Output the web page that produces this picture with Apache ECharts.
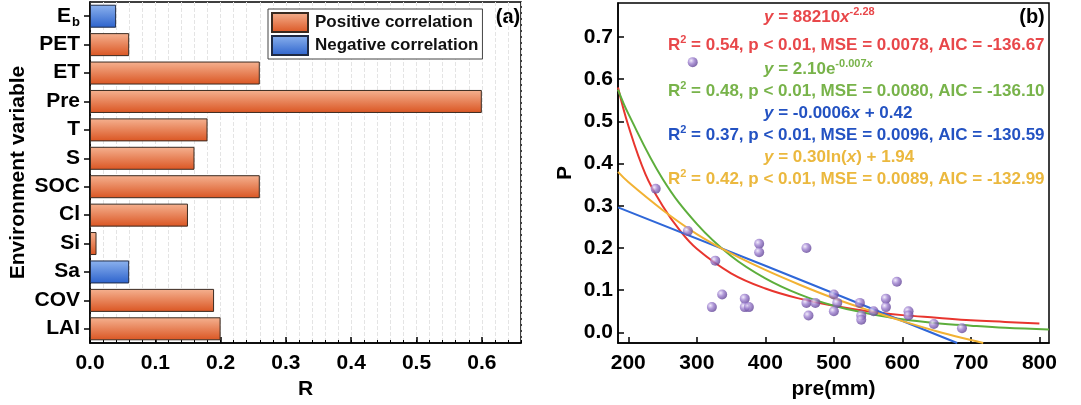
<!DOCTYPE html>
<html><head><meta charset="utf-8">
<script src="https://cdn.jsdelivr.net/npm/echarts@6/dist/echarts.min.js"></script>
<style>html,body{margin:0;padding:0;background:#fff}#c{width:1081px;height:405px}</style>
</head><body><div id="c"></div>
<script>
// ---- Panel (a) data ----
const categories = ['E_b','PET','ET','Pre','T','S','SOC','Cl','Si','Sa','COV','LAI'];
const positiveR  = [null,0.06,0.26,0.60,0.18,0.16,0.26,0.15,0.01,null,0.19,0.20];
const negativeR  = [0.04,null,null,null,null,null,null,null,null,0.06,null,null];

// ---- Panel (b) data ----
const pre = [294,240,287,327,337,322,370,370,376,391,391,460,460,473,463,500,505,500,538,540,540,558,576,576,592,609,609,646,687];
const P   = [0.64,0.34,0.24,0.17,0.09,0.06,0.08,0.06,0.06,0.21,0.19,0.20,0.07,0.07,0.04,0.09,0.07,0.05,0.07,0.04,0.03,0.05,0.08,0.06,0.12,0.05,0.04,0.02,0.01];

// fitted curves
const powerX = [185,200,225,250,275,300,350,400,450,500,550,600,650,700,750,800];
const powerY = [0.58,0.49,0.375,0.30,0.242,0.198,0.14,0.104,0.08,0.063,0.05,0.041,0.035,0.029,0.025,0.021];
const expX = [185,200,250,300,350,400,450,500,550,600,650,700,750,814];
const expY = [0.575,0.518,0.364,0.257,0.181,0.128,0.09,0.063,0.045,0.031,0.022,0.016,0.011,0.007];
const linX = [185,400,680];
const linY = [0.296,0.158,-0.025];
const logX = [185,200,250,300,350,400,450,500,550,600,650,700,718];
const logY = [0.38,0.356,0.29,0.233,0.187,0.148,0.113,0.081,0.053,0.027,0.003,-0.018,-0.025];

const pTicks = [0,0.1,0.2,0.3,0.4,0.5,0.6,0.7];
const preTicks = [200,300,400,500,600,700,800];

const FF = '"Liberation Sans", Arial, sans-serif';
const zip = (a,b) => a.map((v,i)=>[v,b[i]]);
const chart = echarts.init(document.getElementById('c'));

const orangeGrad = new echarts.graphic.LinearGradient(0,0,0,1,[{offset:0,color:'#F5B291'},{offset:1,color:'#DA5522'}]);
const blueGrad = new echarts.graphic.LinearGradient(0,0,0,1,[{offset:0,color:'#8DB3EE'},{offset:1,color:'#2C62CC'}]);
const dotGrad = new echarts.graphic.RadialGradient(0.35,0.35,0.7,[{offset:0,color:'#EEE6FA'},{offset:0.45,color:'#9D80CF'},{offset:1,color:'#5D3F92'}]);

const red='#E8352E', green='#5DAE3C', blue='#2F67D8', yellow='#F2B233';
const tRed='#E8474A', tGreen='#78B34A', tBlue='#2352C2', tYellow='#EBB83E';

function richSet(){
  return {
    n:{fontSize:17,fontWeight:'bold',fontFamily:FF,lineHeight:20,verticalAlign:'bottom'},
    i:{fontSize:17,fontWeight:'bold',fontStyle:'italic',fontFamily:FF,lineHeight:20,verticalAlign:'bottom'},
    s:{fontSize:11,fontWeight:'bold',fontFamily:FF,lineHeight:11,verticalAlign:'top'},
    si:{fontSize:11,fontWeight:'bold',fontStyle:'italic',fontFamily:FF,lineHeight:11,verticalAlign:'top'}
  };
}
function txt(x,y,text,color){
  return {type:'text',x:x,y:y,z:10,style:{text:text,fill:color,textVerticalAlign:'middle',rich:richSet(),font:'bold 17px '+FF}};
}

const axisLineStyle = {color:'#000',width:1.5};
const tickLabel = {color:'#000',fontSize:21,fontWeight:'bold',fontFamily:FF};

chart.setOption({
  animation:false,
  backgroundColor:'#fff',
  grid:[
    {left:90,top:2,width:431,height:341,show:true,borderColor:'#000',borderWidth:1.5,backgroundColor:'transparent'},
    {left:618,top:3,width:431,height:340,show:true,borderColor:'#000',borderWidth:1.5,backgroundColor:'transparent'}
  ],
  legend:{
    data:['Positive correlation','Negative correlation'],
    orient:'vertical',left:268,top:9,icon:'rect',
    itemWidth:36,itemHeight:19,itemGap:2,
    backgroundColor:'#fff',borderColor:'#444',borderWidth:1,padding:[3,4,3,3],
    textStyle:{fontSize:17,fontWeight:'bold',fontFamily:FF,color:'#111',padding:[0,0,0,2]}
  },
  xAxis:[
    {gridIndex:0,type:'value',min:0,max:0.66,interval:0.1,position:'bottom',
     name:'R',nameLocation:'middle',nameGap:33,
     nameTextStyle:{fontSize:21,fontWeight:'bold',fontFamily:FF,color:'#000'},
     axisLine:{show:true,onZero:false,lineStyle:axisLineStyle},
     axisTick:{show:true,inside:true,length:6,lineStyle:{color:'#000',width:1.5}},
     axisLabel:Object.assign({margin:10,showMaxLabel:false,formatter:v=>v.toFixed(1)},tickLabel),
     splitLine:{show:true,lineStyle:{color:'#b8b8b8',type:'dashed',width:1}}},
    {gridIndex:0,type:'value',min:0,max:0.66,interval:0.02,position:'bottom',
     axisLine:{show:false,onZero:false},axisLabel:{show:false},
     axisTick:{show:true,inside:true,length:3,lineStyle:{color:'#000',width:1}},
     splitLine:{show:true,lineStyle:{color:'#e4e4e4',type:'dashed',width:1}}},
    {gridIndex:1,type:'value',min:185,max:814,position:'bottom',
     name:'pre(mm)',nameLocation:'middle',nameGap:33,
     nameTextStyle:{fontSize:21,fontWeight:'bold',fontFamily:FF,color:'#000'},
     axisLine:{show:true,onZero:false,lineStyle:axisLineStyle},
     axisTick:{show:true,inside:true,length:6,customValues:preTicks,lineStyle:{color:'#000',width:1.5}},
     axisLabel:Object.assign({margin:10,customValues:preTicks},tickLabel),
     splitLine:{show:false}}
  ],
  yAxis:[
    {gridIndex:0,type:'category',data:categories,inverse:true,
     name:'Environment variable',nameLocation:'middle',nameGap:61,
     nameTextStyle:{fontSize:21,fontWeight:'bold',fontFamily:FF,color:'#000'},
     axisLine:{show:true,onZero:false,lineStyle:axisLineStyle},
     axisTick:{show:true,alignWithLabel:true,length:6,lineStyle:{color:'#000',width:1.5}},
     axisLabel:{margin:10,formatter:v=> v==='E_b' ? '{m|E}{b|b}' : '{m|'+v+'}',
       rich:{m:{fontSize:21,fontWeight:'bold',fontFamily:FF,color:'#000',lineHeight:22,verticalAlign:'top'},
             b:{fontSize:13,fontWeight:'bold',fontFamily:FF,color:'#000',lineHeight:13,padding:[11,0,0,1],verticalAlign:'top'}}},
     splitLine:{show:false}},
    {gridIndex:1,type:'value',min:-0.025,max:0.78,position:'left',
     name:'P',nameLocation:'middle',nameGap:42,
     nameTextStyle:{fontSize:21,fontWeight:'bold',fontFamily:FF,color:'#000'},
     axisLine:{show:true,onZero:false,lineStyle:axisLineStyle},
     axisTick:{show:true,inside:true,length:6,customValues:pTicks,lineStyle:{color:'#000',width:1.5}},
     axisLabel:Object.assign({margin:5,customValues:pTicks,formatter:v=>Number(v).toFixed(1)},tickLabel),
     splitLine:{show:false}}
  ],
  graphic:[
    {type:'text',x:508,y:17,style:{text:'(a)',font:'bold 20px '+FF,fill:'#000',textAlign:'center',textVerticalAlign:'middle'}},
    {type:'text',x:1032,y:17,style:{text:'(b)',font:'bold 20px '+FF,fill:'#000',textAlign:'center',textVerticalAlign:'middle'}},
    txt(764,16,'{i|y}{n| = 88210}{i|x}{s|-2.28}',tRed),
    txt(668,44,'{n|R}{s|2}{n| = 0.54, p < 0.01, MSE = 0.0078, AIC = -136.67}',tRed),
    txt(764,68,'{i|y}{n| = 2.10e}{s|-0.007}{si|x}',tGreen),
    txt(668,90,'{n|R}{s|2}{n| = 0.48, p < 0.01, MSE = 0.0080, AIC = -136.10}',tGreen),
    txt(764,112,'{i|y}{n| = -0.0006}{i|x}{n| + 0.42}',tBlue),
    txt(668,134,'{n|R}{s|2}{n| = 0.37, p < 0.01, MSE = 0.0096, AIC = -130.59}',tBlue),
    txt(764,156,'{i|y}{n| = 0.30ln(}{i|x}{n|) + 1.94}',tYellow),
    txt(668,178,'{n|R}{s|2}{n| = 0.42, p < 0.01, MSE = 0.0089, AIC = -132.99}',tYellow)
  ],
  series:[
    {name:'Positive correlation',type:'bar',xAxisIndex:0,yAxisIndex:0,data:positiveR,
     barWidth:23,barGap:'-100%',itemStyle:{color:orangeGrad,borderColor:'#3a2a20',borderWidth:1}},
    {name:'Negative correlation',type:'bar',xAxisIndex:0,yAxisIndex:0,data:negativeR,
     barWidth:23,barGap:'-100%',itemStyle:{color:blueGrad,borderColor:'#1f2a44',borderWidth:1}},
    {type:'line',xAxisIndex:2,yAxisIndex:1,data:zip(powerX,powerY),smooth:0.4,showSymbol:false,lineStyle:{color:red,width:2},z:2},
    {type:'line',xAxisIndex:2,yAxisIndex:1,data:zip(expX,expY),smooth:0.4,showSymbol:false,lineStyle:{color:green,width:2},z:2},
    {type:'line',xAxisIndex:2,yAxisIndex:1,data:zip(linX,linY),showSymbol:false,lineStyle:{color:blue,width:2},z:2},
    {type:'line',xAxisIndex:2,yAxisIndex:1,data:zip(logX,logY),smooth:0.4,showSymbol:false,lineStyle:{color:yellow,width:2},z:2},
    {type:'scatter',xAxisIndex:2,yAxisIndex:1,data:zip(pre,P),symbolSize:10,itemStyle:{color:dotGrad},z:4}
  ]
});
</script></body></html>
